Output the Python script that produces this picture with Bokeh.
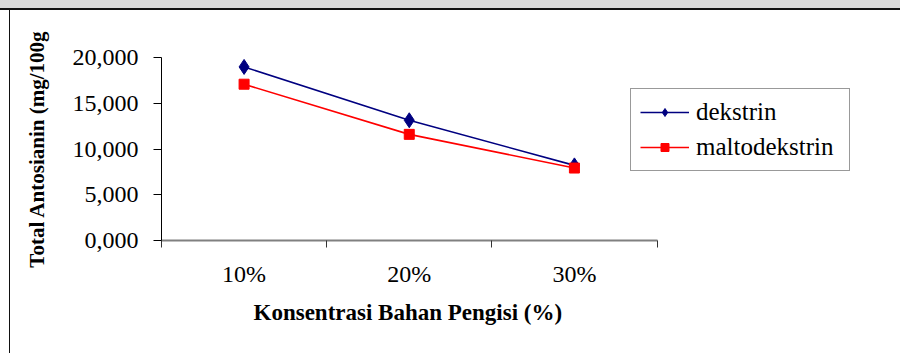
from bokeh.embed import file_html
from bokeh.models import FixedTicker, Legend, LegendItem, Range1d, Title
from bokeh.plotting import figure
from bokeh.resources import INLINE

# Filler concentration groups and total anthocyanin (mg/100 g) per filler
categories = ["10%", "20%", "30%"]
dekstrin = [18970, 13140, 8210]
maltodekstrin = [17080, 11600, 7920]

y_ticks = [0, 5000, 10000, 15000, 20000]
y_tick_labels = ["0,000", "5,000", "10,000", "15,000", "20,000"]

SERIF = "'Liberation Serif', 'Times New Roman', serif"

n = len(categories)
x_centers = [i + 0.5 for i in range(n)]
x_bounds = list(range(n + 1))

# plot frame runs wide so the legend can sit inside it; the category
# axis itself only spans [0, n]
LEFT, RIGHT, TOP, BOTTOM = 161, 20, 57, 113
frame_w = 900 - LEFT - RIGHT
axis_w = 495.5

p = figure(
    width=900,
    height=353,
    x_range=Range1d(0, n * frame_w / axis_w),
    y_range=Range1d(0, 20000),
    output_backend="svg",
    toolbar_location=None,
    min_border_left=LEFT,
    min_border_right=RIGHT,
    min_border_top=TOP,
    min_border_bottom=BOTTOM,
)
p.border_fill_color = None
p.background_fill_color = "white"
p.outline_line_color = None
p.xgrid.visible = False
p.ygrid.visible = False

# grey band and black frame edges around the chart area
p.styles = {
    "background": (
        "linear-gradient(#d9d9d9, #d9d9d9) 0 0 / 100% 8px no-repeat, "
        "linear-gradient(#111, #111) 0 8px / 100% 2px no-repeat, "
        "linear-gradient(#111, #111) 9px 8px / 1px 100% no-repeat, "
        "#ffffff"
    )
}

# x axis: category labels centred, tick marks on the category boundaries
xa = p.xaxis[0]
xa.bounds = (0, n)
xa.ticker = FixedTicker(ticks=x_centers, minor_ticks=x_bounds)
xa.major_label_overrides = {c: lab for c, lab in zip(x_centers, categories)}
xa.axis_line_color = "#808080"
xa.axis_line_width = 2
xa.major_tick_line_color = None
xa.major_tick_out = 0
xa.minor_tick_line_color = "#333333"
xa.minor_tick_line_width = 1
xa.minor_tick_in = 0
xa.minor_tick_out = 7
xa.major_label_standoff = 13
xa.major_label_text_font = SERIF
xa.major_label_text_font_size = "24px"
xa.major_label_text_color = "black"

# x axis title, placed under the category axis span rather than the frame
x_title = Title(
    text="Konsentrasi Bahan Pengisi (%)",
    align="left",
    offset=92,
    standoff=16,
    text_font=SERIF,
    text_font_style="bold",
    text_font_size="23px",
    text_color="black",
)
p.add_layout(x_title, "below")

# y axis
ya = p.yaxis[0]
ya.ticker = FixedTicker(ticks=y_ticks, minor_ticks=[])
ya.major_label_overrides = {t: lab for t, lab in zip(y_ticks, y_tick_labels)}
ya.axis_line_color = "black"
ya.axis_line_width = 1
ya.major_tick_line_color = "black"
ya.major_tick_in = 0
ya.major_tick_out = 8
ya.minor_tick_line_color = None
ya.major_label_standoff = 15
ya.major_label_text_font = SERIF
ya.major_label_text_font_size = "24px"
ya.major_label_text_color = "black"
ya.axis_label = "Total Antosianin (mg/100g"
ya.axis_label_text_font = SERIF
ya.axis_label_text_font_style = "bold"
ya.axis_label_text_font_size = "21px"
ya.axis_label_text_color = "black"
ya.axis_label_standoff = 21

# series
l1 = p.line(x_centers, dekstrin, line_color="#000080", line_width=1.6)
s1 = p.scatter(x_centers, dekstrin, marker="diamond", size=15,
               fill_color="#000080", line_color="#000080")
l2 = p.line(x_centers, maltodekstrin, line_color="#ff0000", line_width=1.6)
s2 = p.scatter(x_centers, maltodekstrin, marker="square", size=10,
               fill_color="#ff0000", line_color="#ff0000")

legend = Legend(
    items=[
        LegendItem(label="dekstrin", renderers=[l1, s1]),
        LegendItem(label="maltodekstrin", renderers=[l2, s2]),
    ],
    location=(469, 69),
    orientation="vertical",
    padding=9,
    spacing=7,
    glyph_width=49,
    glyph_height=20,
    label_standoff=7,
    label_width=144,
    label_text_font=SERIF,
    label_text_font_size="25px",
    label_text_color="black",
    border_line_color="#333333",
    border_line_width=1,
    background_fill_color="white",
    background_fill_alpha=1.0,
)
p.add_layout(legend)

open("out.html", "w").write(file_html(p, INLINE))
